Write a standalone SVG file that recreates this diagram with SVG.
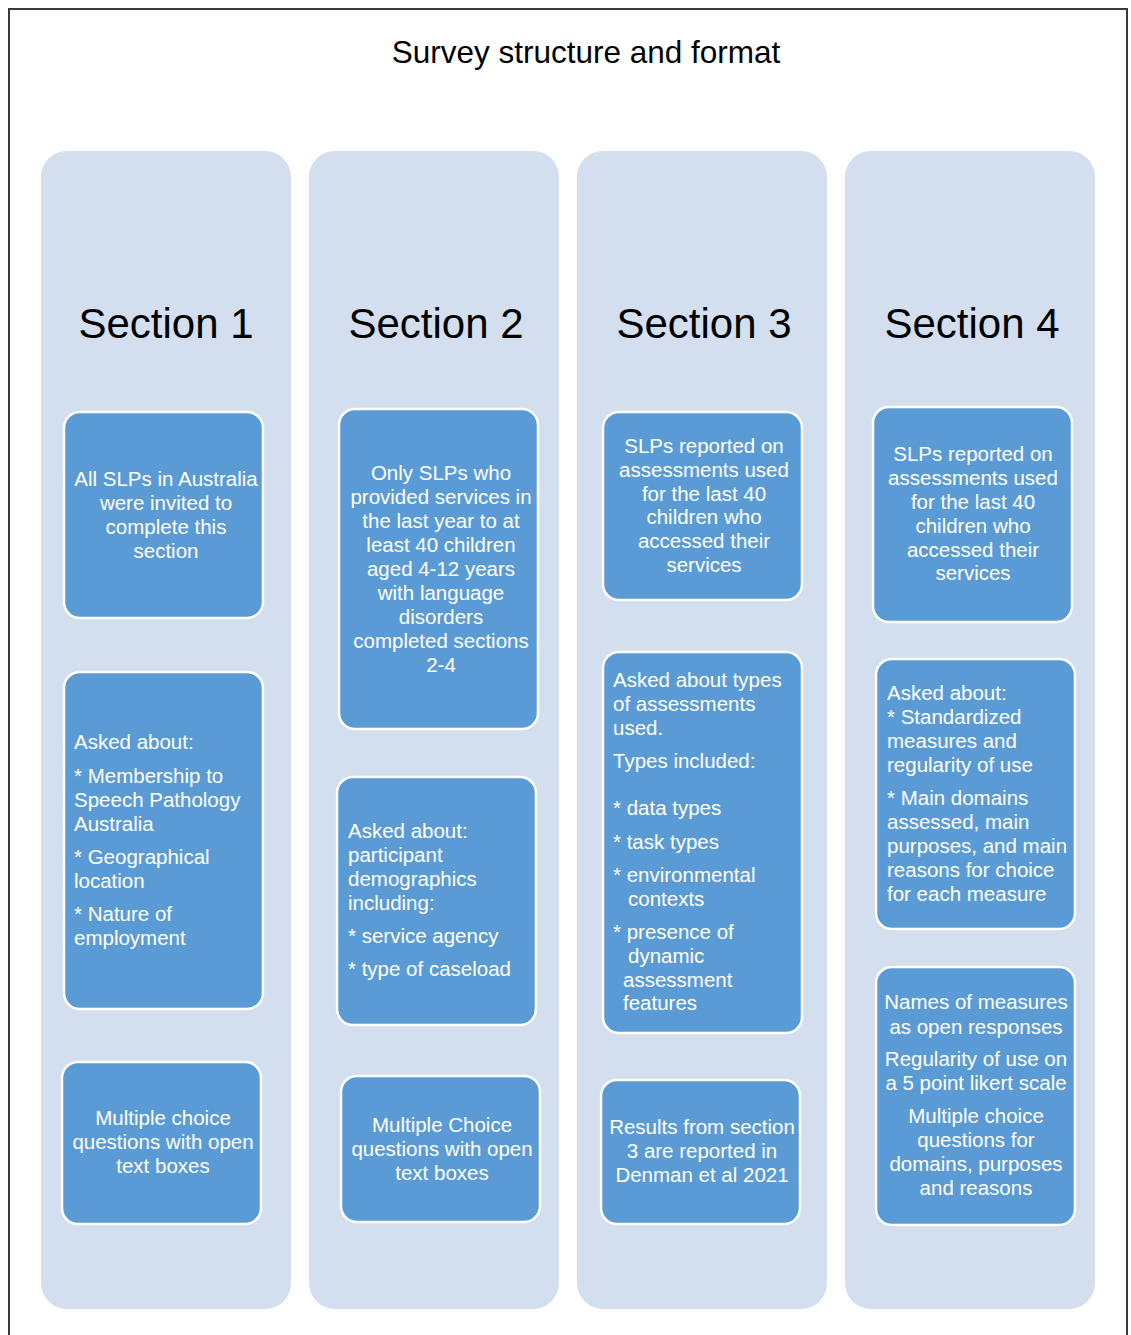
<svg xmlns="http://www.w3.org/2000/svg" width="1131" height="1335" viewBox="0 0 1131 1335">
<style>
.col{fill:#D3DEEF}
.box{fill:#5B9BD5;stroke:#FFFFFF;stroke-width:2.5}
.t{font-family:"Liberation Sans",Arial,sans-serif;font-size:20.5px;fill:#FFFFFF}
.c{text-anchor:middle}
.h{font-family:"Liberation Sans",Arial,sans-serif;font-size:42px;fill:#000000;text-anchor:middle}
.title{font-family:"Liberation Sans",Arial,sans-serif;font-size:31.5px;fill:#000000;text-anchor:middle}
</style>
<rect x="0" y="0" width="1131" height="1335" fill="#FFFFFF"/>
<path d="M9,1335 V9 H1127 V1335" fill="none" stroke="#3A3A3A" stroke-width="2"/>
<text class="title" x="586" y="63">Survey structure and format</text>

<g id="section1">
<rect class="col" x="41" y="151" width="250" height="1158" rx="26"/>
<text class="h" x="166" y="338">Section 1</text>
</g>
<g id="section2">
<rect class="col" x="309" y="151" width="250" height="1158" rx="26"/>
<text class="h" x="436" y="338">Section 2</text>
</g>
<g id="section3">
<rect class="col" x="577" y="151" width="250" height="1158" rx="26"/>
<text class="h" x="704" y="338">Section 3</text>
</g>
<g id="section4">
<rect class="col" x="845" y="151" width="250" height="1158" rx="26"/>
<text class="h" x="972" y="338">Section 4</text>
</g>

<g id="s1b1">
<rect class="box" x="64" y="412" width="199" height="206" rx="16"/>
<text class="t c" x="166"><tspan x="166" y="486">All SLPs in Australia</tspan><tspan x="166" y="510">were invited to</tspan><tspan x="166" y="534">complete this</tspan><tspan x="166" y="558">section</tspan></text>
</g>
<g id="s1b2">
<rect class="box" x="64" y="672" width="199" height="337" rx="16"/>
<text class="t"><tspan x="74" y="749">Asked about:</tspan><tspan x="74" y="783">* Membership to</tspan><tspan x="74" y="807">Speech Pathology</tspan><tspan x="74" y="831">Australia</tspan><tspan x="74" y="864">* Geographical</tspan><tspan x="74" y="888">location</tspan><tspan x="74" y="921">* Nature of</tspan><tspan x="74" y="945">employment</tspan></text>
</g>
<g id="s1b3">
<rect class="box" x="62" y="1062" width="199" height="162" rx="16"/>
<text class="t c"><tspan x="163" y="1125">Multiple choice</tspan><tspan x="163" y="1149">questions with open</tspan><tspan x="163" y="1173">text boxes</tspan></text>
</g>

<g id="s2b1">
<rect class="box" x="339" y="409" width="199" height="320" rx="16"/>
<text class="t c"><tspan x="441" y="480">Only SLPs who</tspan><tspan x="441" y="504">provided services in</tspan><tspan x="441" y="528">the last year to at</tspan><tspan x="441" y="552">least 40 children</tspan><tspan x="441" y="576">aged 4-12 years</tspan><tspan x="441" y="600">with language</tspan><tspan x="441" y="624">disorders</tspan><tspan x="441" y="648">completed sections</tspan><tspan x="441" y="672">2-4</tspan></text>
</g>
<g id="s2b2">
<rect class="box" x="337" y="777" width="199" height="248" rx="16"/>
<text class="t"><tspan x="348" y="838">Asked about:</tspan><tspan x="348" y="862">participant</tspan><tspan x="348" y="886">demographics</tspan><tspan x="348" y="910">including:</tspan><tspan x="348" y="943">* service agency</tspan><tspan x="348" y="976">* type of caseload</tspan></text>
</g>
<g id="s2b3">
<rect class="box" x="341" y="1076" width="199" height="146" rx="16"/>
<text class="t c"><tspan x="442" y="1132">Multiple Choice</tspan><tspan x="442" y="1156">questions with open</tspan><tspan x="442" y="1180">text boxes</tspan></text>
</g>

<g id="s3b1">
<rect class="box" x="603" y="412" width="199" height="188" rx="16"/>
<text class="t c"><tspan x="704" y="453">SLPs reported on</tspan><tspan x="704" y="477">assessments used</tspan><tspan x="704" y="501">for the last 40</tspan><tspan x="704" y="524">children who</tspan><tspan x="704" y="548">accessed their</tspan><tspan x="704" y="572">services</tspan></text>
</g>
<g id="s3b2">
<rect class="box" x="603" y="652" width="199" height="381" rx="16"/>
<text class="t"><tspan x="613" y="687">Asked about types</tspan><tspan x="613" y="711">of assessments</tspan><tspan x="613" y="735">used.</tspan><tspan x="613" y="768">Types included:</tspan><tspan x="613" y="815">* data types</tspan><tspan x="613" y="849">* task types</tspan><tspan x="613" y="882">* environmental</tspan><tspan x="628" y="906">contexts</tspan><tspan x="613" y="939">* presence of</tspan><tspan x="628" y="963">dynamic</tspan><tspan x="623" y="987">assessment</tspan><tspan x="623" y="1010">features</tspan></text>
</g>
<g id="s3b3">
<rect class="box" x="601" y="1080" width="199" height="144" rx="16"/>
<text class="t c"><tspan x="702" y="1134">Results from section</tspan><tspan x="702" y="1158">3 are reported in</tspan><tspan x="702" y="1182">Denman et al 2021</tspan></text>
</g>

<g id="s4b1">
<rect class="box" x="873" y="407" width="199" height="215" rx="16"/>
<text class="t c"><tspan x="973" y="461">SLPs reported on</tspan><tspan x="973" y="485">assessments used</tspan><tspan x="973" y="509">for the last 40</tspan><tspan x="973" y="533">children who</tspan><tspan x="973" y="557">accessed their</tspan><tspan x="973" y="580">services</tspan></text>
</g>
<g id="s4b2">
<rect class="box" x="876" y="659" width="199" height="270" rx="16"/>
<text class="t"><tspan x="887" y="700">Asked about:</tspan><tspan x="887" y="724">* Standardized</tspan><tspan x="887" y="748">measures and</tspan><tspan x="887" y="772">regularity of use</tspan><tspan x="887" y="805">* Main domains</tspan><tspan x="887" y="829">assessed, main</tspan><tspan x="887" y="853">purposes, and main</tspan><tspan x="887" y="877">reasons for choice</tspan><tspan x="887" y="901">for each measure</tspan></text>
</g>
<g id="s4b3">
<rect class="box" x="876" y="967" width="199" height="258" rx="16"/>
<text class="t c"><tspan x="976" y="1009">Names of measures</tspan><tspan x="976" y="1034">as open responses</tspan><tspan x="976" y="1066">Regularity of use on</tspan><tspan x="976" y="1090">a 5 point likert scale</tspan><tspan x="976" y="1123">Multiple choice</tspan><tspan x="976" y="1147">questions for</tspan><tspan x="976" y="1171">domains, purposes</tspan><tspan x="976" y="1195">and reasons</tspan></text>
</g>

<g id="connectors"></g>
</svg>
